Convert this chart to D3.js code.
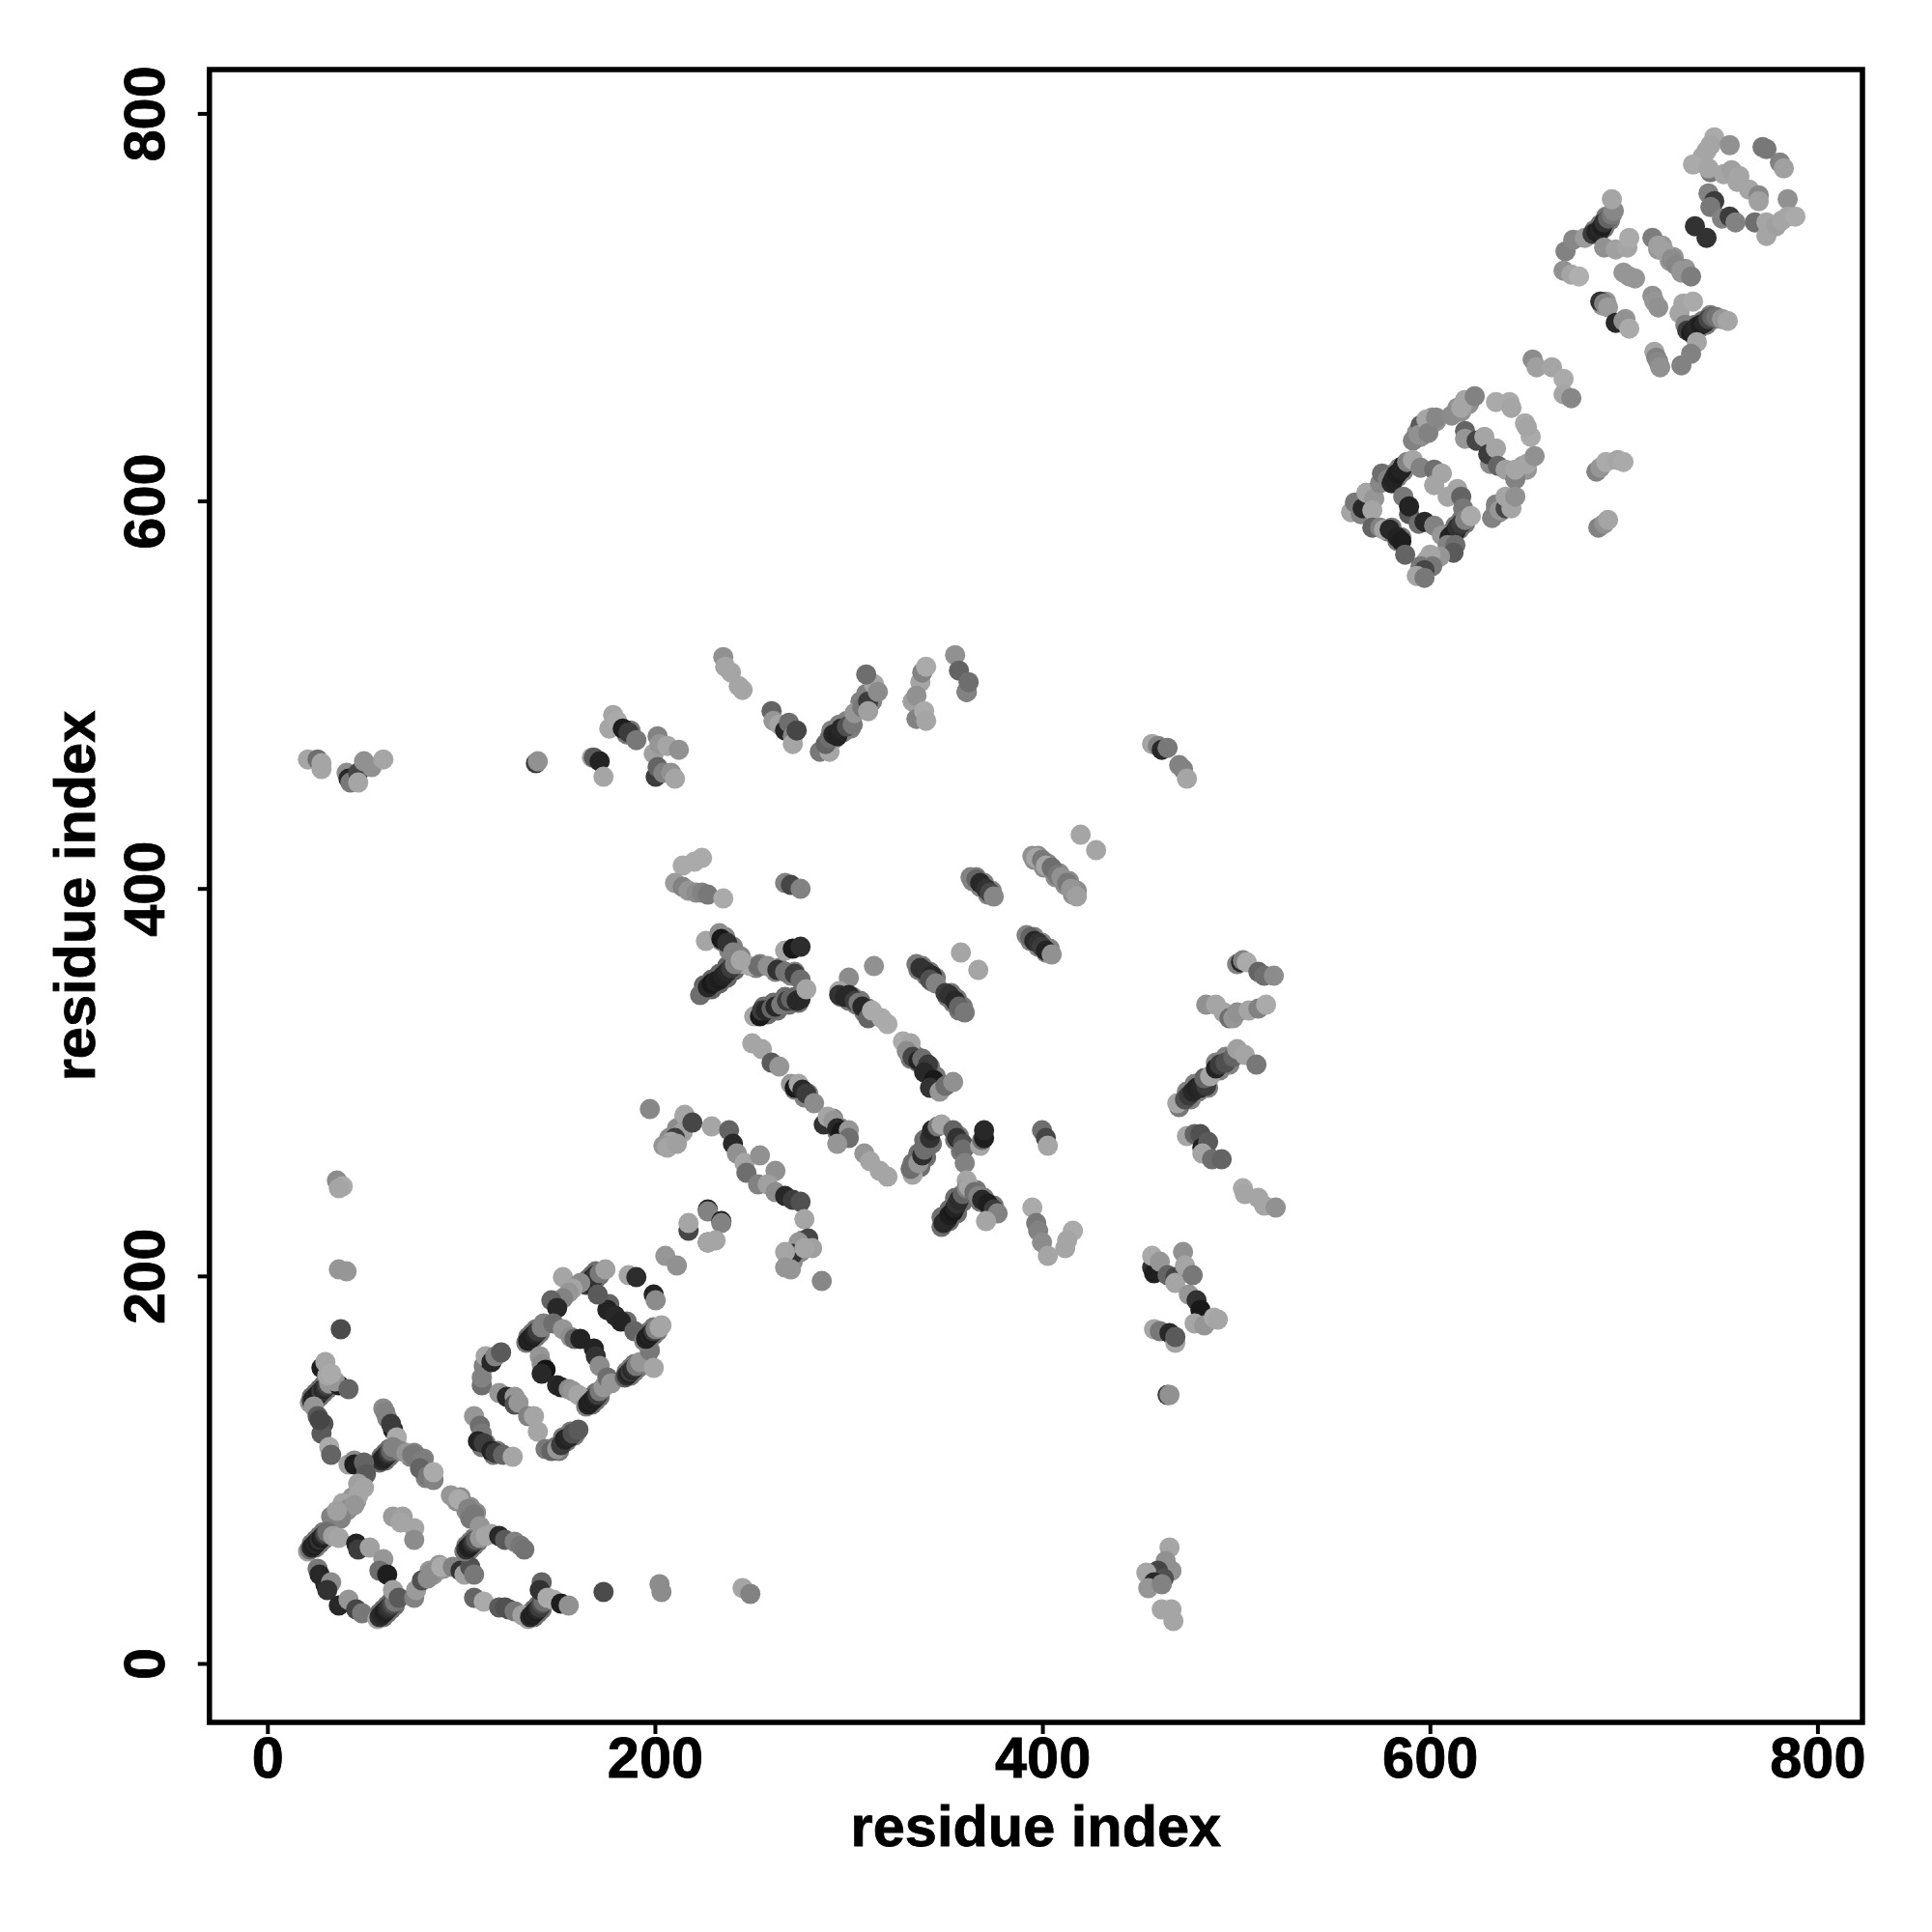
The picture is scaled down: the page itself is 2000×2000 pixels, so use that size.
<!DOCTYPE html>
<html><head><meta charset="utf-8">
<script src="https://cdn.jsdelivr.net/npm/d3@7/dist/d3.min.js"></script>
<style>html,body{margin:0;padding:0;background:#fff}svg{display:block}</style>
</head><body><svg id="c" width="2000" height="2000"></svg>
<script>
const tickValues=[0,200,400,600,800];
const axisTitle="residue index";
const lowerX=[
25,23,27,25,29,27,31,29,
61,59,63,61,65,63,
25,23,27,25,29,27,31,29,
60,58,62,60,64,62,66,64,
105,103,107,105,109,107,
138,136,140,138,142,140,
168,166,170,168,172,170,
137,135,139,137,141,139,
168,166,170,168,172,170,
188,186,190,188,192,190,
198,196,200,198,202,200,
151,149,155,153,159,157,
230,226,234,230,238,234,242,238,
259,257,264,262,270,268,275,273,
294,292,298,296,302,300,310,307,313,310,
478,476,482,480,487,485,493,491,498,496,
338,334,341,337,344,340,
353,349,357,353,360,356,
689,687,692,690,695,693,
738,736,741,739,745,743,749,747,
585,583,588,586,566,564,571,569,
614,612,617,615,620,618,
597,595,601,599,605,603,618,616,622,620,
638,636,643,641,
652,650,
272,270,276,274,279,277,
210,208,214,212,218,216,
237,235,241,239,245,243,255,253,265,263,273,271,
299,297,303,301,307,305,311,309,
335,333,339,337,343,341,346,344,
339,337,343,341,346,344,354,352,357,355,360,358,
399,397,404,402,410,408,415,413,419,417,
367,365,371,369,375,373,
397,395,401,399,405,403,
275,273,280,278,293,291,297,295,
367,365,371,369,376,374,
358,356,361,359,
188,186,
582,580,587,585,
113,111,119,117,
722,720,728,726,734,732,
693,691,703,701,
86,84,91,89,
41,39,46,44,
76,74,81,79,84,82,
100,98,105,103,108,106
];
const lowerY=[
136,138,138,140,140,142,142,144,
105,107,107,109,109,111,
60,62,62,64,64,66,66,68,
24,26,26,28,28,30,30,32,
59,61,61,63,63,65,
24,26,26,28,28,30,
197,199,199,201,201,203,
167,169,169,171,171,173,
134,136,136,138,138,140,
149,151,151,153,153,155,
168,170,170,172,172,174,
110,112,115,117,118,120,
349,351,352,354,355,357,359,361,
336,340,338,342,341,345,342,345,
479,483,482,486,484,488,494,498,498,502,
292,296,296,300,298,302,307,311,310,314,
257,259,262,264,269,271,
229,231,233,235,239,241,
740,742,743,745,747,749,
688,690,691,693,693,695,696,698,
614,616,617,619,599,601,604,606,
583,585,587,589,590,592,
635,637,639,641,643,645,648,650,652,654,
596,598,600,602,
618,620,
208,210,213,215,217,219,
270,272,275,277,281,283,
376,374,371,369,366,364,362,360,360,358,358,356,
347,345,345,343,343,341,339,337,
315,313,313,311,309,307,304,302,
361,359,358,356,355,353,347,345,344,342,340,338,
418,416,414,412,409,407,405,403,400,398,
407,405,404,402,400,398,
376,374,373,371,370,368,
299,297,295,293,282,280,277,275,
245,243,241,239,237,235,
273,271,267,265,
483,481,
588,586,583,581,
114,112,110,108,
734,732,728,726,722,720,
705,703,696,694,
46,48,49,51,
79,81,84,86,
109,107,106,104,98,96,
86,84,81,79,78,76
];
const lowerShade=[
110,110,110,110,110,110,110,110,
110,110,110,110,110,110,
120,120,120,120,120,120,120,120,
110,110,110,110,110,110,110,110,
120,120,120,120,120,120,
110,110,110,110,110,110,
110,110,110,110,110,110,
120,120,120,120,120,120,
110,110,110,110,110,110,
120,120,120,120,120,120,
120,120,120,120,120,120,
120,120,120,120,120,120,
100,100,100,100,100,100,100,100,
110,110,110,110,110,110,110,110,
130,130,130,130,130,130,130,130,130,130,
130,130,130,130,130,130,130,130,130,130,
110,110,110,110,110,110,
110,110,110,110,110,110,
120,120,120,120,120,120,
120,120,120,120,120,120,120,120,
130,130,130,130,130,130,130,130,
120,120,120,120,120,120,
145,145,145,145,145,145,145,145,145,145,
145,145,145,145,
150,150,
140,140,140,140,140,140,
140,140,140,140,140,140,
130,130,130,130,130,130,130,130,130,130,130,130,
120,120,120,120,120,120,120,120,
120,120,120,120,120,120,120,120,
120,120,120,120,120,120,120,120,120,120,120,120,
140,140,140,140,140,140,140,140,140,140,
130,130,130,130,130,130,
130,130,130,130,130,130,
130,130,130,130,130,130,130,130,
120,120,120,120,120,120,
120,120,120,120,
120,120,
120,120,120,120,
120,120,120,120,
150,150,150,150,150,150,
150,150,150,150,
150,150,150,150,
150,150,150,150,
130,130,130,130,130,130,
140,140,140,140,140,140
];
const residueX=[
36,39,37, 37,41, 38,
28,22,23,24,25,26,27,28,29,30,31,32,37,35,30,31,33,42, 24,26,29,28,27,32,33,
60,61,62,65,64,67, 58,59,60,61,62,63,64,65,69,72,75,77,80,79,83,86,86,
42,45,45,50,51,47,50,44,47,39,42,45,33,38,36,
21,22,23,24,25,26,27,28,29,30,31,34,37, 46,47,53,60,58,62, 26,27,30,33,31,37,42,46,49,
57,58,59,60,61,62,63,64,65,66,65,68,
65,70,69,76,76,
76,77,80,83,85,90,96,100,102,105,107,
95,99,104,107,105,110,102,103,104,105,106,107,108,110,113,116,120,123,128,131,133,
107,112,120,123,125,128,132,135,136,137,138,139,140,141,142,143,142,141,145,148,152,156,
174,203,204,246,250,
111,111,112,115,113,116,118,121,
120,124,128,128,130,135,138,140,
107,110,111,109,112,116,118,122,127,
144,147,150,152,154,156,158,161,
165,166,167,168,169,170,172,175,153,162,158,156,153,150,147,150,
134,135,136,137,138,139,140,142,143,148,153,157,159,162,169,170,172,
141,142,144,142,150,152,156,158,161,
165,166,167,168,169,170,171,172,174,176,178,
177,176,171,180,186,183,190,
185,186,187,188,189,190,191,193,198,200,
195,196,197,198,199,200,201,203,204,200,201,187,191,
206,212, 218,218,228,228,235,235,228,228,232,
198,216,215,220,211,209,205,207,212,
230,239,241,243,247,248,255,263,254,259,263,268,272,276,278,
280,275,272,268,282,278,268,271,287,
225,221,215,211,215,218,222,225,228,236, 268,271,276,
227,234,235,238,241,244,247,250,254,259,264,268,273,276, 268,272,276,
224,226,228,230,232,234,236,238,240,242,245,
252,255,256,258,261,263,266,269,271,274,276,279,
301,296,296,299,301,304,306,308,311,313,318,321,
329,333,331,334,337,339,342,340,345,343,348,351,355, 314,
336,338,341,344,343,346,351,353,356,358,361, 359,368,
396,398,401,403,406,409,411,414,416,419,421,429,
364,367,369,372,374,376, 393,395,397,399,401,403,406,
251,256,261,265, 271,273,275,277,279,283, 288,290,293,295,297,301,301,295, 309,312,317,321,
334,333,337,339,340,341,343,344,347,349,355,357,360,360,361,362, 369,370,371,371, 401,403,404,
349,350,352,353,355,356,357,358,360,362, 363,366,368,370,373,376,378,372,
396,398,399,401,404,417,414,413,
502,504,505,507,513,516,521, 486,491,495,498,500,502,508,513,517,
472,471,475,477,479,481,483,486,485,488,491,493,496,500,502,506,512,
476,480,483,484,487,484,489,494, 505,506,513,516,522,
458,459,458,462,466,470,470,474,475,477,479,481,483,480,485,490,492,
459,462,467,470,470, 466,467,
467,465,468,461,455,464,459,456,463, 463,468,469,
21,26,28,28,41,42,43,47,47,50,54,60, 139,140, 168,169,172,174,
179,177,181,184,187,191,200,201,202,202,203,205,207,209,213,211,
236,237,240,244,246,
261,262,265,268,270,272,272,274,
286,291,289,291,293,295,297,300,303,304,308,311,311,314,316,310,
334,336,338,336,340,341,339,341, 356,358,362,362,363,
458,461,463,466,472,474,476,
655,657,665,671,671,675,
593,597,596,600,601,605,613,618,620,625,636,643,644,651,654,652,
620,620,626,630,633,632,636,637,641,646,646,652,656,
634,636,638,641,641,644,646,
561,563,566,567,569,573,572,576,577,580,582,583,584,585,587,588,590,593,597,604,604,608,
588,591,591,596,599,604,611,616,618,619,
608,612,613,615,616,618,620,623,611,615,614,607,602,600,603,597,599,595,599,
572,576,578,581,585,587,589,
689,692,694,688,690,693,699,702,
672,676,682,686,688,690,691,692,694,696,697,696,692,698,704,705,
671,675,679,702,705,708,717,720,723,727,729,732,737,
690,692,694,698,702,705,717,718,720,
731,733,738,734,735,737,738,740,742,744,746,748,750,753,756,740,737,732,718,719,720,721,
749,747,745,743,757,747,738,746,
774,776,783,785,754,758,761,762,767,772,772,746,749,747,787,
753,757,760,770,776,776,781,784,787,791,739,745
];
const residueY=[
250,247,246, 204,203, 173,
153,135,136,137,138,139,140,141,142,143,144,145,144,146,156,149,150,142, 133,128,124,119,126,112,108,
132,130,127,121,124,117, 104,105,106,107,108,109,110,112,110,109,108,107,105,101,97,95,99,
103,105,103,104,98,93,91,85,87,83,80,82,76,75,79,
58,59,60,61,62,63,64,65,66,67,68,66,65, 62,59,60,54,48,46, 49,46,41,42,38,30,33,28,26,
23,24,25,26,27,28,29,30,31,32,38,34,
76,76,73,70,64,
34,38,43,44,47,50,50,48,46,50,46,
87,85,80,77,75,71,58,59,60,61,62,63,64,65,66,67,66,64,63,61,59,
34,32,29,29,28,27,25,23,24,25,26,27,28,29,31,32,42,38,34,33,31,30,
37,41,37,39,36,
144,148,154,157,159,156,159,161,
140,138,138,134,135,128,128,120,
128,123,119,115,114,110,109,108,107,
111,110,111,113,116,117,119,121,
196,197,198,199,200,201,202,204,200,197,194,192,189,186,188,184,
166,167,168,169,170,171,172,174,176,176,173,169,168,168,163,159,154,
159,155,152,150,144,143,142,141,139,
133,134,135,136,137,138,139,141,143,148,145,
186,183,191,180,177,177,172,
148,149,150,151,152,153,154,156,162,153,
167,168,169,170,171,172,173,174,175,191,188,201,200,
211,206, 224,228,235,234,229,228,218,218,219,
287,284,275,280,272,270,268,267,269,
278,276,269,264,259,254,263,255,248,248,244,242,240,239,230,
220,218,212,213,215,215,205,204,198,
417,415,413,404,402,400,399,399,398,396, 404,403,401,
374,378,375,373,368,365,362,361,361,361,359,358,357,354, 369,370,371,
346,348,350,352,353,354,356,358,360,362,364,
335,335,338,338,339,340,341,343,344,343,344,349,
355,348,346,345,346,343,342,340,334,338,334,331,
322,321,317,314,312,313,310,306,302,298,296,299,301, 361,
362,360,358,356,354,352,347,346,343,340,337, 368,359,
418,417,416,413,412,408,407,404,401,397,429,421,
407,406,404,401,399,397, 377,376,374,373,371,369,367,
321,318,311,309, 300,298,300,297,295,290, 279,283,281,277,275,276,272,269, 264,260,255,252,
253,256,259,263,266,268,272,276,278,279,276,272,269,266,259,250, 268,271,272,276, 276,272,268,
226,228,230,232,234,236,238,240,243,246, 247,244,242,240,238,235,233,229,
236,228,224,218,211,224,219,215,
362,363,364,363,358,356,356, 341,341,337,334,334,337,338,339,341,
288,290,292,294,296,298,298,299,303,304,308,310,311,314,318,315,310,
273,274,274,267,270,264,261,261, 246,243,241,237,236,
205,202,211,208,201,200,197,213,206,191,201,188,183,176,175,179,178,
173,172,171,166,169, 139,139,
60,53,48,48,47,44,42,39,41, 28,28,22,
468,468,466,463,461,458,456,461,456,467,464,468, 466,467, 469,469,467,459,
491,484,488,484,482,478,471,459,464,480,476,461,475,461,473,458,
521,516,513,506,504,
493,488,486,483,487,480,476,483,
472,472,476,479,481,480,484,485,486,492,495,498,493,507,503,512,
498,489,508,501,493,488,513,516, 522,514,503,503,508,
476,475,473,474,465,463,458,
675,671,671,665,657,655,
633,641,636,644,637,645,646,650,654,656,653,653,650,642,635,640,
638,634,633,635,621,626,629,620,618,613,618,621,625,
593,600,597,598,604,598,604,
596,601,595,598,606,603,597,611,616,613,611,613,615,616,618,620,622,623,619,618,610,616,
604,595,599,590,591,589,604,608,604,598,
584,583,584,586,588,590,592,594,579,579,575,573,574,571,568,568,566,563,562,
588,588,587,587,583,581,574,
588,590,592,617,619,622,623,622,
731,737,738,740,741,742,744,746,748,750,752,758,733,732,733,738,
721,719,718,720,718,717,738,734,731,727,724,721,718,
705,704,702,694,695,691,708,705,702,
699,704,705,693,690,689,690,692,693,694,696,697,697,696,695,684,678,672,679,676,674,671,
790,786,783,780,786,772,776,774,
785,784,777,774,771,773,767,770,763,760,757,761,757,754,758,
748,749,746,746,739,746,744,747,749,749,744,738
];
const shade=[
140,170,165, 150,150, 75,
30,150,60,30,40,30,35,60,40,50,70,150,30,150,165,165,170,100, 150,90,80,90,70,170,100,
140,130,130,35,60,170, 110,50,35,35,40,60,100,130,130,150,120,120,125,100,120,130,170,
160,140,30,100,90,160,165,150,165,165,140,150,130,130,160,
160,110,40,30,40,30,50,30,40,70,110,160,165, 35,60,160,150,110,30, 120,40,40,140,50,40,150,70,120,
165,50,40,35,30,40,50,60,80,120,160,90,
155,160,165,165,140,
130,155,80,140,140,170,130,50,160,80,120,
150,170,130,120,120,150,120,50,35,30,40,60,90,150,165,165,40,90,130,120,115,
100,170,90,80,80,120,160,160,40,30,35,30,40,60,80,110,100,50,170,170,30,145,
75,140,140,165,130,
110,130,130,35,165,40,130,90,
150,40,150,80,150,130,165,165,
150,110,120,35,60,35,60,100,165,
120,100,150,60,35,40,80,90,
60,30,35,30,40,50,120,160,165,140,165,150,130,130,100,40,
120,30,35,30,35,40,60,130,130,110,150,140,100,35,35,50,140,
150,140,20,40,40,35,140,150,165,
130,35,30,35,30,35,60,120,150,110,150,
100,35,90,40,110,35,100,
100,50,35,60,40,50,120,150,120,165,
130,35,30,35,30,60,130,165,165,35,140,165,45,
150,145, 70,165,35,130,30,130,70,165,165,
135,165,160,70,60,165,150,165,160,
165,100,40,145,165,110,145,145,130,160,140,40,60,80,165,
70,150,50,165,160,165,150,150,135,
170,170,170,155,130,150,140,130,120,170, 130,70,130,
165,140,25,50,130,130,165,170,110,145,50,115,60,110, 165,25,45,
110,110,40,25,35,30,35,40,60,130,165,
165,25,60,40,100,40,120,60,100,40,40,165,
140,165,50,40,40,60,120,40,100,170,170,170,
170,165,140,70,35,110,60,40,25,50,150,110,145, 145,
120,50,50,40,80,130,60,50,40,100,120, 165,165,
145,165,120,165,110,120,145,120,150,160,165,165,
130,100,40,50,70,135, 130,100,40,50,60,35,145,
165,165,90,150, 150,25,165,40,60,140, 50,165,150,40,25,150,110,150, 150,165,165,165,
165,110,150,45,110,110,50,40,120,165,100,50,80,110,130,165, 165,110,30,40, 110,70,165,
110,40,40,30,25,35,50,45,100,130, 165,110,130,40,30,60,130,165,
170,120,130,140,165,170,165,165,
130,40,130,170,100,110,140, 145,165,165,110,150,145,165,130,170,
120,165,80,60,40,35,40,60,100,165,35,60,80,100,160,165,120,
165,100,80,30,90,165,110,100, 170,165,165,165,145,
50,30,170,150,100,70,165,145,165,150,120,50,25,165,150,170,165,
165,120,40,165,90, 60,145,
165,145,145,70,165,80,40,150,130, 165,165,165,
165,110,165,165,140,40,120,70,165,145,145,165, 60,145, 165,90,35,165,
165,165,170,30,60,120,160,60,100,130,150,130,165,145,145,165,
145,165,165,165,165,
100,150,165,40,110,130,165,70,
120,165,100,110,40,35,40,80,120,150,120,60,160,165,140,110,
160,130,165,145,170,165,130,170, 145,100,70,130,110,
165,130,40,120,130,130,165,
140,160,165,170,165,135,
130,90,145,165,130,135,140,165,165,130,170,170,165,170,170,165,
100,150,70,165,140,60,165,100,160,130,165,165,145,
130,130,150,70,165,165,145,
165,120,130,40,165,150,165,135,110,130,40,35,35,30,35,35,130,165,130,110,165,165,
120,90,35,110,40,130,165,165,100,120,
150,35,35,30,50,60,130,170,130,110,90,150,165,165,120,120,70,165,120,
100,130,165,40,35,30,100,
130,145,165,130,150,170,165,170,
130,135,155,60,35,40,30,50,100,120,135,165,145,160,165,170,
145,165,175,150,150,150,125,160,160,140,135,150,125,
50,130,155,40,145,170,145,150,145,
165,165,170,130,60,30,35,40,30,40,70,100,115,150,165,165,130,130,165,130,135,145,
170,165,165,165,145,120,170,165,
120,120,130,160,165,160,165,165,165,135,160,130,60,120,145,
130,60,130,110,165,165,160,165,165,170,50,50
];

const markRadius=10.5;
const svg=d3.select("#c");
const x=d3.scaleLinear().domain([0,800]).range([276.8,1881.4]);
const y=d3.scaleLinear().domain([0,800]).range([1722,117.4]);
const boxLeft=216.8,boxRight=1928,boxTop=72,boxBottom=1783;
const reading=0.997; // calibration of the values
function drawLayer(xs,ys,gs){
  if(xs.length!==ys.length||xs.length!==gs.length){throw new Error("lengths "+xs.length+" "+ys.length+" "+gs.length);}
  svg.append("g").selectAll("circle").data(d3.range(xs.length)).join("circle")
    .attr("cx",i=>x(xs[i]*reading))
    .attr("cy",i=>y(ys[i]*reading))
    .attr("r",markRadius)
    .attr("fill",i=>d3.rgb(gs[i],gs[i],gs[i]).formatHex());
}
drawLayer(lowerX,lowerY,lowerShade);
drawLayer(residueX,residueY,shade);
svg.append("rect").attr("x",boxLeft).attr("y",boxTop).attr("width",boxRight-boxLeft).attr("height",boxBottom-boxTop)
  .attr("fill","none").attr("stroke","#000").attr("stroke-width",5.5);
const font="'Liberation Sans',Arial,sans-serif";
const fontSize=59.5;
function styleText(s){s.attr("font-family",font).attr("font-weight","bold").attr("font-size",fontSize).attr("fill","#000").attr("stroke","#000").attr("stroke-width",0.8);}
const gx=svg.append("g").attr("transform",`translate(0,${boxBottom})`)
  .call(d3.axisBottom(x).tickValues(tickValues).tickFormat(d3.format("d")).tickSize(12));
gx.select(".domain").remove();
gx.selectAll("line").attr("stroke","#000").attr("stroke-width",4);
gx.selectAll("text").attr("y",57).attr("dy",0).call(styleText);
const gy=svg.append("g").attr("transform",`translate(${boxLeft},0)`)
  .call(d3.axisLeft(y).tickValues(tickValues).tickFormat(d3.format("d")).tickSize(12));
gy.select(".domain").remove();
gy.selectAll("line").attr("stroke","#000").attr("stroke-width",4);
gy.selectAll("text").attr("x",0).attr("y",-46.8).attr("dy",0).attr("transform","rotate(-90)")
  .attr("text-anchor","middle").call(styleText);
svg.append("text").attr("x",(boxLeft+boxRight)/2).attr("y",1911).attr("text-anchor","middle").call(styleText).text(axisTitle);
svg.append("text").attr("transform",`translate(98,${(boxTop+boxBottom)/2}) rotate(-90)`).attr("text-anchor","middle").call(styleText).text(axisTitle);
</script></body></html>
